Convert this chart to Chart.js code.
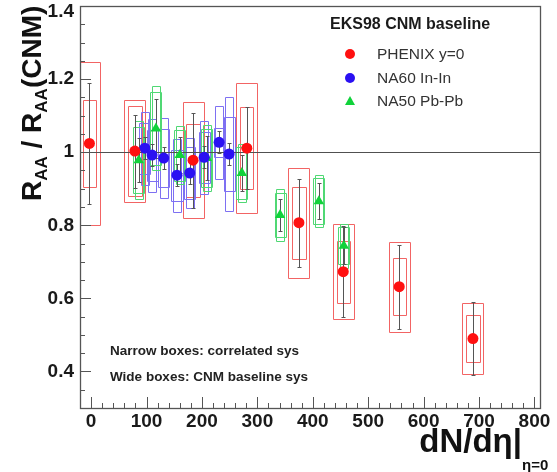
<!DOCTYPE html>
<html><head><meta charset="utf-8">
<script src="https://cdn.jsdelivr.net/npm/chart.js@4.4.0/dist/chart.umd.min.js"></script>
<style>html,body{margin:0;padding:0;background:#fff;overflow:hidden}</style>
</head><body>
<canvas id="c" width="557" height="472" style="width:557px;height:472px;display:block"></canvas>
<script>
// ---- tick labels ----
const xTickLabels = [0, 100, 200, 300, 400, 500, 600, 700, 800];
const yTickLabels = [0.4, 0.6, 0.8, 1, 1.2, 1.4];

// ---- PHENIX y=0 ----
const phenixX    = [-3, 79, 184, 281, 375, 455, 556, 689];
const phenixY    = [1.024, 1.003, 0.978, 1.011, 0.807, 0.673, 0.632, 0.490];
const phenixStat = [0.165, 0.100, 0.130, 0.113, 0.120, 0.125, 0.115, 0.100];
const phenixCorr = [0.118, 0.124, 0.100, 0.113, 0.098, 0.085, 0.078, 0.064];
const phenixCNM  = [0.224, 0.139, 0.158, 0.178, 0.150, 0.130, 0.123, 0.097];

// ---- NA60 In-In ----
const na60X    = [97, 110, 131, 155, 178, 204, 231, 249];
const na60Y    = [1.011, 0.992, 0.984, 0.937, 0.943, 0.986, 1.027, 0.995];
const na60Stat = [0.030, 0.030, 0.030, 0.030, 0.030, 0.030, 0.030, 0.030];
const na60Corr = [0.100, 0.100, 0.110, 0.100, 0.095, 0.100, 0.100, 0.155];
const na60CNM  = [0.070, 0.070, 0.080, 0.070, 0.070, 0.070, 0.040, 0.100];

// ---- NA50 Pb-Pb ----
const na50X    = [86, 117, 160, 209, 272, 341, 411, 456];
const na50Y    = [0.978, 1.065, 0.992, 0.984, 0.943, 0.828, 0.866, 0.744];
const na50Stat = [0.060, 0.080, 0.050, 0.060, 0.050, 0.045, 0.050, 0.050];
const na50Corr = [0.107, 0.115, 0.080, 0.090, 0.080, 0.070, 0.072, 0.060];
const na50CNM  = [0.090, 0.100, 0.070, 0.080, 0.070, 0.060, 0.062, 0.050];

const FONT = '"Liberation Sans", Arial, Helvetica, sans-serif';

const series = [
  {label:'PHENIX y=0', x:phenixX, y:phenixY, stat:phenixStat, corr:phenixCorr, cnm:phenixCNM,
   color:'rgb(255,16,16)', box:'rgb(242,100,100)', wideHW:19, narrowHW:12, style:'circle', r:5.5},
  {label:'NA60 In-In', x:na60X, y:na60Y, stat:na60Stat, corr:na60Corr, cnm:na60CNM,
   color:'rgb(42,16,242)', box:'rgb(126,112,242)', wideHW:10, narrowHW:7, style:'circle', r:5.5},
  {label:'NA50 Pb-Pb', x:na50X, y:na50Y, stat:na50Stat, corr:na50Corr, cnm:na50CNM,
   color:'rgb(16,210,58)', box:'rgb(80,216,116)', wideHW:10, narrowHW:7, style:'triangle', r:6}
];

const toPts = s => s.x.map((v,i)=>({x:v, y:s.y[i]}));

function boxRect(ctx, x, y, xv, yv, hw, dy, color){
  const x0 = Math.round(x.getPixelForValue(xv-hw))+0.5;
  const x1 = Math.round(x.getPixelForValue(xv+hw))+0.5;
  const y0 = Math.round(y.getPixelForValue(yv+dy))+0.5;
  const y1 = Math.round(y.getPixelForValue(yv-dy))+0.5;
  ctx.beginPath();
  ctx.rect(x0, y0, x1-x0, y1-y0);
  ctx.strokeStyle = color;
  ctx.lineWidth = 1;
  ctx.stroke();
}

const boxPlugin = {
  id:'boxes',
  beforeDatasetsDraw(chart){
    const {ctx, chartArea:a, scales:{x, y}} = chart;
    ctx.save();
    ctx.beginPath(); ctx.rect(a.left, a.top, a.right-a.left, a.bottom-a.top); ctx.clip();
    series.forEach(s=>{
      s.x.forEach((xv,i)=>{
        boxRect(ctx, x, y, xv, s.y[i], s.wideHW, s.cnm[i], s.box);
        boxRect(ctx, x, y, xv, s.y[i], s.narrowHW, s.corr[i], s.box);
      });
    });
    // stat error bars
    ctx.lineWidth = 1;
    ctx.strokeStyle = 'rgb(85,85,85)';
    series.forEach(s=>{
      s.x.forEach((xv,i)=>{
        const px = Math.round(x.getPixelForValue(xv))+0.5;
        const y0 = Math.round(y.getPixelForValue(s.y[i]+s.stat[i]))+0.5;
        const y1 = Math.round(y.getPixelForValue(s.y[i]-s.stat[i]))+0.5;
        ctx.beginPath();
        ctx.moveTo(px, y0); ctx.lineTo(px, y1);
        ctx.moveTo(px-2, y0); ctx.lineTo(px+2, y0);
        ctx.moveTo(px-2, y1); ctx.lineTo(px+2, y1);
        ctx.stroke();
      });
    });
    // reference line at 1
    const p1 = Math.round(y.getPixelForValue(1))+0.5;
    ctx.strokeStyle = 'rgb(80,80,80)';
    ctx.lineWidth = 1.2;
    ctx.beginPath(); ctx.moveTo(a.left, p1); ctx.lineTo(a.right, p1); ctx.stroke();
    ctx.restore();
  },
  afterDraw(chart){
    const {ctx, chartArea:a, scales:{x, y}} = chart;
    ctx.save();
    // frame
    ctx.strokeStyle = '#555'; ctx.lineWidth = 1.3;
    ctx.strokeRect(a.left+0.5, a.top+0.5, a.right-a.left, a.bottom-a.top);
    // ticks
    ctx.lineWidth = 1; ctx.strokeStyle = '#555';
    ctx.beginPath();
    for (let v = 0; v <= 800; v += 20){
      const px = Math.round(x.getPixelForValue(v))+0.5;
      const len = (v % 100 === 0) ? 11 : 5;
      ctx.moveTo(px, a.bottom); ctx.lineTo(px, a.bottom-len);
    }
    for (let k = 6; k <= 28; k++){
      const v = k*0.05;
      const py = Math.round(y.getPixelForValue(v))+0.5;
      const len = (k % 4 === 0) ? 11 : 5;
      ctx.moveTo(a.left, py); ctx.lineTo(a.left+len, py);
    }
    ctx.stroke();
    // tick labels
    ctx.fillStyle = '#1a1a1a';
    ctx.font = 'bold 19px ' + FONT;
    ctx.textAlign = 'center'; ctx.textBaseline = 'middle';
    xTickLabels.forEach(v=>{
      ctx.fillText(String(v), x.getPixelForValue(v), 422);
    });
    ctx.textAlign = 'right';
    yTickLabels.forEach(v=>{
      ctx.fillText(String(v), 74, Math.max(12, y.getPixelForValue(v)));
    });
    // legend
    ctx.textAlign = 'left';
    ctx.font = 'bold 16px ' + FONT;
    ctx.fillStyle = '#1a1a1a';
    ctx.fillText('EKS98 CNM baseline', 330, 25);
    ctx.font = '15.5px ' + FONT;
    const ly = [54, 78, 101];
    series.forEach((s,i)=>{
      ctx.fillStyle = s.color;
      if (s.style === 'circle'){
        ctx.beginPath(); ctx.arc(350, ly[i], 5, 0, Math.PI*2); ctx.fill();
      } else {
        ctx.beginPath(); ctx.moveTo(350, ly[i]-5); ctx.lineTo(355, ly[i]+4); ctx.lineTo(345, ly[i]+4); ctx.closePath(); ctx.fill();
      }
      ctx.fillStyle = '#333';
      ctx.fillText(s.label, 377, ly[i]+1);
    });
    // annotations
    ctx.font = 'bold 13.5px ' + FONT;
    ctx.fillStyle = '#222';
    ctx.fillText('Narrow boxes: correlated sys', 110, 351);
    ctx.fillText('Wide boxes: CNM baseline sys', 110, 377);
    // x title
    ctx.textBaseline = 'alphabetic';
    ctx.textAlign = 'right';
    ctx.fillStyle = '#111';
    ctx.font = 'bold 33px ' + FONT;
    ctx.fillText('dN/dη|', 522, 452);
    ctx.textAlign = 'left';
    ctx.font = 'bold 15px ' + FONT;
    ctx.fillText('η=0', 522, 470);
    // y title (rotated)
    ctx.save();
    ctx.translate(41, 201);
    ctx.rotate(-Math.PI/2);
    ctx.textAlign = 'left';
    const big = 'bold 28px ' + FONT, small = 'bold 17px ' + FONT;
    const parts = [['R',big,0],['AA',small,6],[' / ',big,0],['R',big,0],['AA',small,6],['(CNM)',big,0]];
    let cx = 0;
    parts.forEach(([t,f,dy])=>{
      ctx.font = f; ctx.fillText(t, cx, dy); cx += ctx.measureText(t).width;
    });
    ctx.restore();
    ctx.restore();
  }
};

new Chart(document.getElementById('c'), {
  type:'scatter',
  data:{ datasets: series.map((s,i)=>({
    label:s.label, data:toPts(s), pointStyle:s.style, pointRadius:s.r,
    backgroundColor:s.color, borderColor:s.color, borderWidth:0, order:i
  }))},
  options:{
    responsive:false, animation:false, devicePixelRatio:1,
    layout:{padding:{left:80, right:17, top:5, bottom:64}},
    scales:{
      x:{type:'linear', min:-20, max:810, display:false},
      y:{type:'linear', min:0.3, max:1.4, display:false}
    },
    plugins:{legend:{display:false}, tooltip:{enabled:false}},
    events:[]
  },
  plugins:[boxPlugin]
});
</script>
</body></html>
